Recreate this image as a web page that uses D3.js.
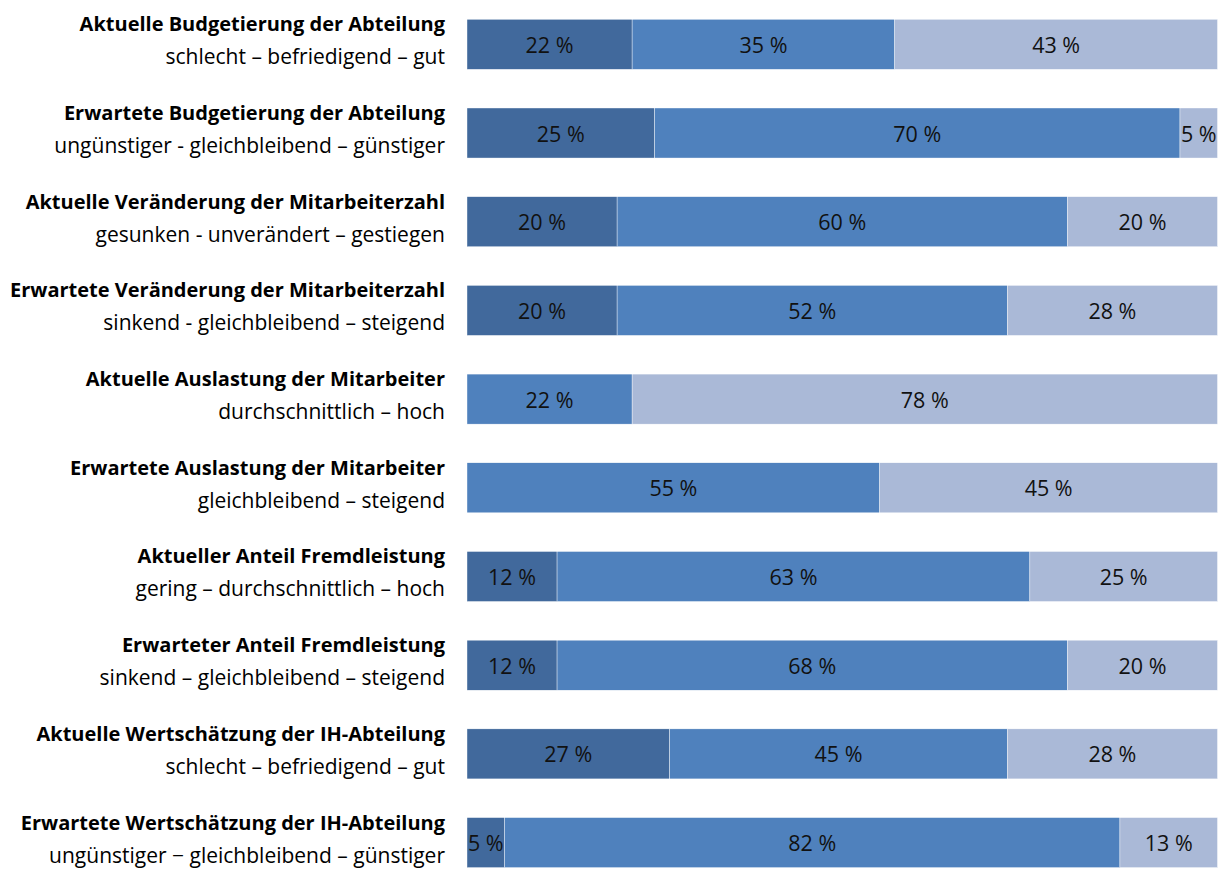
<!DOCTYPE html>
<html><head><meta charset="utf-8">
<script src="https://cdn.jsdelivr.net/npm/d3@7"></script>
<style>body{margin:0;background:#fff}</style>
</head><body>
<svg id="chart" width="1229" height="869"></svg>
<script>
const titles = [
  "Aktuelle Budgetierung der Abteilung",
  "Erwartete Budgetierung der Abteilung",
  "Aktuelle Veränderung der Mitarbeiterzahl",
  "Erwartete Veränderung der Mitarbeiterzahl",
  "Aktuelle Auslastung der Mitarbeiter",
  "Erwartete Auslastung der Mitarbeiter",
  "Aktueller Anteil Fremdleistung",
  "Erwarteter Anteil Fremdleistung",
  "Aktuelle Wertschätzung der IH-Abteilung",
  "Erwartete Wertschätzung der IH-Abteilung"
];
const subtitles = [
  "schlecht – befriedigend – gut",
  "ungünstiger - gleichbleibend – günstiger",
  "gesunken - unverändert – gestiegen",
  "sinkend - gleichbleibend – steigend",
  "durchschnittlich – hoch",
  "gleichbleibend – steigend",
  "gering – durchschnittlich – hoch",
  "sinkend – gleichbleibend – steigend",
  "schlecht – befriedigend – gut",
  "ungünstiger − gleichbleibend – günstiger"
];
const low  = [22, 25, 20, 20, 0, 0, 12, 12, 27, 5];
const mid  = [35, 70, 60, 52, 22, 55, 63, 68, 45, 82];
const high = [43, 5, 20, 28, 78, 45, 25, 20, 28, 13];
const seriesKeys = ["low", "mid", "high"];
const colors = ["#41699c", "#4f81bd", "#aab9d7"];

const rows = titles.map((t, i) => ({title: t, sub: subtitles[i], low: low[i], mid: mid[i], high: high[i]}));
const stack = d3.stack().keys(seriesKeys)(rows);

const svg = d3.select("#chart");
const x = d3.scaleLinear().domain([0, 100]).range([467, 1217.5]);
const y = d3.scaleBand().domain(d3.range(rows.length)).range([19.3, 867.6]).paddingInner(0.436).paddingOuter(0).align(0);

const font = "'Open Sans', sans-serif";
const gSeries = svg.selectAll("g.series").data(stack).join("g").attr("class", "series")
  .attr("fill", (d, i) => colors[i]);
gSeries.selectAll("rect").data(d => d.map((v, i) => ({v, i}))).join("rect")
  .attr("x", d => x(d.v[0]))
  .attr("y", d => y(d.i))
  .attr("width", d => x(d.v[1]) - x(d.v[0]))
  .attr("height", y.bandwidth())
  .attr("stroke", "#ffffff").attr("stroke-width", 0.4);

gSeries.selectAll("text").data(d => d.map((v, i) => ({v, i})).filter(d => d.v[1] - d.v[0] > 0)).join("text")
  .attr("x", d => (x(d.v[0]) + x(d.v[1])) / 2)
  .attr("y", d => y(d.i) + y.bandwidth() / 2 + 8.5)
  .attr("text-anchor", "middle")
  .attr("font-family", font).attr("font-size", 21.5).attr("fill", "#111")
  .text(d => (d.v[1] - d.v[0]) + " %");

const lab = svg.append("g");
lab.selectAll("text.t").data(rows).join("text").attr("class", "t")
  .attr("x", 445).attr("y", (d, i) => y(i) + y.bandwidth() / 2 - 13)
  .attr("text-anchor", "end").attr("font-family", font).attr("font-weight", "bold")
  .attr("font-size", 20).attr("fill", "#000").text(d => d.title);
lab.selectAll("text.s").data(rows).join("text").attr("class", "s")
  .attr("x", 445).attr("y", (d, i) => y(i) + y.bandwidth() / 2 + 20)
  .attr("text-anchor", "end").attr("font-family", font)
  .attr("font-size", 21).attr("fill", "#000").text(d => d.sub);
</script>
</body></html>
